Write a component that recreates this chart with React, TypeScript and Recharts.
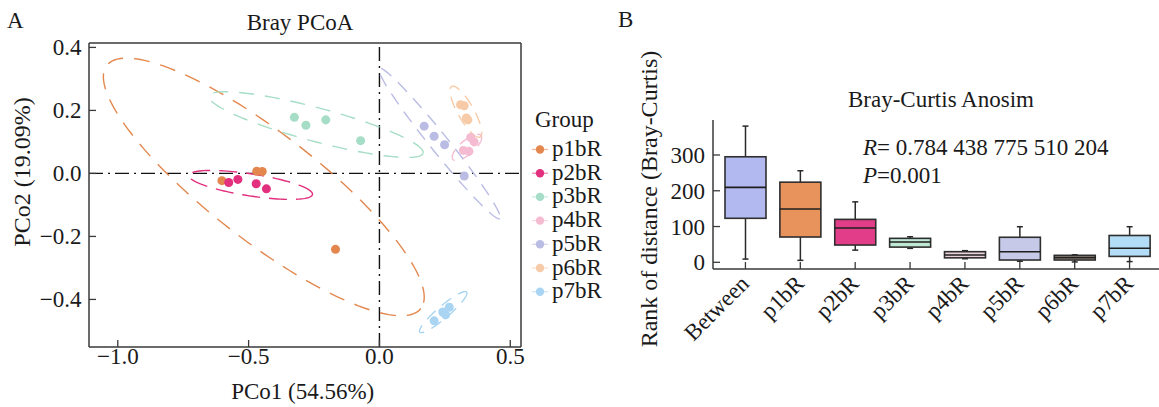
import React from 'react';
import { ScatterChart, Scatter, XAxis, YAxis, ReferenceLine, Legend, ComposedChart, Bar } from 'recharts';

const FONT = "'Liberation Serif', 'Times New Roman', Times, serif";
const AX = '#3a3a3a';
const TXT = '#1a1a1a';

// ---------- Panel A: PCoA ----------
const groups = ['p1bR', 'p2bR', 'p3bR', 'p4bR', 'p5bR', 'p6bR', 'p7bR'];
const groupColors = ['#E3874E', '#E2307E', '#A6DDC6', '#F5BBD0', '#BABCE4', '#F7CBA8', '#A9D5F3'];

const p1bR = [{ x: -0.469, y: 0.007 }, { x: -0.448, y: 0.006 }, { x: -0.602, y: -0.023 }, { x: -0.168, y: -0.241 }];
const p2bR = [{ x: -0.576, y: -0.029 }, { x: -0.541, y: -0.019 }, { x: -0.471, y: -0.033 }, { x: -0.432, y: -0.049 }];
const p3bR = [{ x: -0.325, y: 0.178 }, { x: -0.281, y: 0.153 }, { x: -0.205, y: 0.170 }, { x: -0.072, y: 0.104 }];
const p4bR = [{ x: 0.349, y: 0.114 }, { x: 0.362, y: 0.100 }, { x: 0.321, y: 0.073 }, { x: 0.342, y: 0.070 }];
const p5bR = [{ x: 0.171, y: 0.150 }, { x: 0.209, y: 0.118 }, { x: 0.249, y: 0.091 }, { x: 0.324, y: -0.008 }];
const p6bR = [{ x: 0.310, y: 0.218 }, { x: 0.324, y: 0.215 }, { x: 0.338, y: 0.170 }, { x: 0.332, y: 0.176 }];
const p7bR = [{ x: 0.209, y: -0.468 }, { x: 0.242, y: -0.440 }, { x: 0.253, y: -0.449 }, { x: 0.267, y: -0.425 }];
const groupPoints = [p1bR, p2bR, p3bR, p4bR, p5bR, p6bR, p7bR];

// ellipse: [center, end of first semi-axis, end of second semi-axis] (data units)
const p1bREllipse = [{ x: -0.442, y: -0.043 }, { x: 0.158, y: -0.429 }, { x: -0.5685, y: -0.178 }];
const p2bREllipse = [{ x: -0.492, y: -0.0365 }, { x: -0.2557, y: -0.0667 }, { x: -0.498, y: -0.0711 }];
const p3bREllipse = [{ x: -0.242, y: 0.155 }, { x: 0.167, y: 0.0644 }, { x: -0.2586, y: 0.1035 }];
const p4bREllipse = [{ x: 0.3344, y: 0.0825 }, { x: 0.3879, y: 0.1206 }, { x: 0.352, y: 0.0657 }];
const p5bREllipse = [{ x: 0.2295, y: 0.0952 }, { x: 0.4606, y: -0.1438 }, { x: 0.2024, y: 0.0775 }];
const p6bREllipse = [{ x: 0.3305, y: 0.1959 }, { x: 0.3849, y: 0.1156 }, { x: 0.3037, y: 0.1835 }];
const p7bREllipse = [{ x: 0.2437, y: -0.4403 }, { x: 0.3332, y: -0.3768 }, { x: 0.2586, y: -0.4549 }];
const groupEllipses = [p1bREllipse, p2bREllipse, p3bREllipse, p4bREllipse, p5bREllipse, p6bREllipse, p7bREllipse];
const ellipseDash = ['16 11', '18 9', '15 11', '12 8', '13 9', '12 8', '12 8'];

const xTicksA = [-1.0, -0.5, 0.0, 0.5];
const yTicksA = [0.4, 0.2, 0.0, -0.2, -0.4];
const X_MIN = -1.11, X_MAX = 0.541, Y_MIN = -0.551, Y_MAX = 0.414;

// ---------- Panel B: ANOSIM boxplot ----------
const boxCategories = ['Between', 'p1bR', 'p2bR', 'p3bR', 'p4bR', 'p5bR', 'p6bR', 'p7bR'];
const boxMin = [9, 5.5, 34, 39, 10, 3, 1, 2];
const boxQ1 = [123, 70.7, 48.3, 42.5, 12.5, 6.4, 6.4, 16.5];
const boxMedian = [209.5, 149, 95.8, 56.7, 20.5, 29.7, 13, 39.5];
const boxQ3 = [295, 224, 120, 67, 29.7, 70, 19.5, 75];
const boxMax = [380.7, 256, 169, 71.5, 32.5, 99.5, 21, 99.5];
const boxColors = ['#B2B9F1', '#E8925C', '#E13D88', '#BFE9D5', '#EBD2DA', '#C6C9E7', '#A8958A', '#B3DCF6'];
const yTicksB = [0, 100, 200, 300];

const boxData = boxCategories.map((c, i) => ({
  category: c, min: boxMin[i], q1: boxQ1[i], median: boxMedian[i], q3: boxQ3[i], max: boxMax[i],
}));

const fmtA = (v: number) => v.toFixed(1).replace('-', '\u2212');

const ellipseLine = (color: string, dash: string) => (props: any) => {
  const pts = props.points || [];
  if (pts.length < 3) return <g />;
  const c = pts[0], a = pts[1], b = pts[2];
  const ax = a.x - c.x, ay = a.y - c.y, bx = b.x - c.x, by = b.y - c.y;
  let d = '';
  const n = 120;
  for (let i = 0; i <= n; i++) {
    const t = (i / n) * Math.PI * 2;
    const px = c.x + ax * Math.cos(t) + bx * Math.sin(t);
    const py = c.y + ay * Math.cos(t) + by * Math.sin(t);
    d += (i === 0 ? 'M' : 'L') + px.toFixed(2) + ',' + py.toFixed(2);
  }
  return <path d={d} fill="none" stroke={color} strokeWidth={1.4} strokeDasharray={dash} />;
};

const LeftXTick = (props: any) => {
  const { x, y, payload } = props;
  return (
    <g>
      <line x1={x} x2={x} y1={y} y2={y - 7} stroke={AX} strokeWidth={1.3} />
      <text x={x} y={y + 17} textAnchor="middle" fontFamily={FONT} fontSize={23} fill={TXT}>{fmtA(payload.value)}</text>
    </g>
  );
};

const LeftYTick = (props: any) => {
  const { x, y, payload } = props;
  return (
    <g>
      <line x1={x} x2={x + 7} y1={y} y2={y} stroke={AX} strokeWidth={1.3} />
      <text x={x - 7.5} y={y + 8} textAnchor="end" fontFamily={FONT} fontSize={23} fill={TXT}>{fmtA(payload.value)}</text>
    </g>
  );
};

const RightXTick = (props: any) => {
  const { x, y, payload } = props;
  const tx = x + 5, ty = y + 16;
  return (
    <g>
      <line x1={x} x2={x} y1={y} y2={y - 7} stroke={AX} strokeWidth={1.3} />
      <text x={tx} y={ty} transform={`rotate(-45, ${tx}, ${ty})`} textAnchor="end" fontFamily={FONT} fontSize={23} fill={TXT}>{payload.value}</text>
    </g>
  );
};

const RightYTick = (props: any) => {
  const { x, y, payload } = props;
  return (
    <g>
      <line x1={x} x2={x + 7} y1={y} y2={y} stroke={AX} strokeWidth={1.3} />
      <text x={x - 8} y={y + 8} textAnchor="end" fontFamily={FONT} fontSize={23} fill={TXT}>{payload.value}</text>
    </g>
  );
};

const BoxShape = (props: any) => {
  const { x, y, width, height, payload } = props;
  if (!payload) return <g />;
  const top = Math.min(y, y + height);
  const h = Math.abs(height);
  const k = h / (payload.q3 - payload.q1);
  const pix = (v: number) => top + (payload.q3 - v) * k;
  const cx = x + width / 2;
  const idx = boxCategories.indexOf(payload.category);
  const col = boxColors[idx];
  const yMax = pix(payload.max), yMin = pix(payload.min), yMed = pix(payload.median);
  const cap = 3;
  return (
    <g>
      <line x1={cx} x2={cx} y1={yMax} y2={top} stroke="#2a2a2a" strokeWidth={1.5} />
      <line x1={cx} x2={cx} y1={top + h} y2={yMin} stroke="#2a2a2a" strokeWidth={1.5} />
      <line x1={cx - cap} x2={cx + cap} y1={yMax} y2={yMax} stroke="#2a2a2a" strokeWidth={1.5} />
      <line x1={cx - cap} x2={cx + cap} y1={yMin} y2={yMin} stroke="#2a2a2a" strokeWidth={1.5} />
      <rect x={x} y={top} width={width} height={h} fill={col} stroke="#2f2f2f" strokeWidth={1.6} />
      <line x1={x} x2={x + width} y1={yMed} y2={yMed} stroke="#1f1f1f" strokeWidth={1.6} />
    </g>
  );
};

const GroupLegend = (props: any) => {
  const payload = (props.payload || []).filter((p: any) => groups.includes(p.value));
  return (
    <svg width={120} height={230} style={{ display: 'block', overflow: 'visible' }}>
      <text x={7} y={27} fontFamily={FONT} fontSize={23} fill={TXT}>Group</text>
      {payload.map((p: any, i: number) => {
        const gi = groups.indexOf(p.value);
        const col = groupColors[gi];
        const cy = 49.5 + i * 23.7;
        return (
          <g key={p.value}>
            <line x1={4} x2={20} y1={cy} y2={cy} stroke={col} strokeWidth={1.2} opacity={0.6} />
            <circle cx={12} cy={cy} r={4.2} fill={col} />
            <text x={24} y={cy + 6.5} fontFamily={FONT} fontSize={23} fill={TXT}>{p.value}</text>
          </g>
        );
      })}
    </svg>
  );
};

export default function App() {
  return (
    <div style={{ position: 'absolute', left: 0, top: 0, width: 1159, height: 407, overflow: 'hidden', background: '#fff' }}>
      <div style={{ position: 'absolute', left: 0, top: 0 }}>
        <ScatterChart width={650} height={407} margin={{ top: 43, right: 129, bottom: 0, left: 0 }}>
          <XAxis type="number" dataKey="x" domain={[X_MIN, X_MAX]} ticks={xTicksA} allowDataOverflow
            height={60} tickSize={0} tickMargin={0} interval={0} tickLine={false}
            axisLine={{ stroke: AX, strokeWidth: 1.5 }} tick={<LeftXTick />} />
          <YAxis type="number" dataKey="y" domain={[Y_MIN, Y_MAX]} ticks={yTicksA} allowDataOverflow
            width={89} tickSize={0} tickMargin={0} interval={0} tickLine={false}
            axisLine={{ stroke: AX, strokeWidth: 1.5 }} tick={<LeftYTick />} />
          <ReferenceLine x={X_MAX} stroke={AX} strokeWidth={1.5} ifOverflow="visible" />
          <ReferenceLine y={Y_MAX} stroke={AX} strokeWidth={1.5} ifOverflow="visible" />
          <ReferenceLine x={0} stroke="#111" strokeWidth={1.4} strokeDasharray="14 5 2 5" />
          <ReferenceLine y={0} stroke="#111" strokeWidth={1.4} strokeDasharray="14 5 2 5" />
          {groups.map((g, i) => (
            <Scatter key={g + '-ell'} name={g + ' ellipse'} data={groupEllipses[i]} legendType="none"
              fill={groupColors[i]} shape={() => <g />}
              line={ellipseLine(groupColors[i], ellipseDash[i])} isAnimationActive={false} />
          ))}
          {groups.map((g, i) => (
            <Scatter key={g} name={g} data={groupPoints[i]} fill={groupColors[i]} shape="circle" isAnimationActive={false} />
          ))}
          <Legend layout="vertical" align="center" verticalAlign="middle" width={120} height={230}
            wrapperStyle={{ position: 'absolute', left: 528, top: 100, width: 120, height: 230 }}
            content={<GroupLegend />} />
        </ScatterChart>
      </div>
      <div style={{ position: 'absolute', left: 600, top: 0 }}>
        <ComposedChart width={562} height={407} data={boxData} margin={{ top: 120, right: 0, bottom: 0, left: 0 }}>
          <XAxis dataKey="category" type="category" height={138} padding={{ left: 5, right: 5 }}
            tickSize={0} tickMargin={0} interval={0} tickLine={false}
            axisLine={{ stroke: AX, strokeWidth: 1.5 }} tick={<RightXTick />} />
          <YAxis type="number" domain={[-18.7, 397.8]} ticks={yTicksB} allowDataOverflow width={113}
            tickSize={0} tickMargin={0} interval={0} tickLine={false}
            axisLine={{ stroke: AX, strokeWidth: 1.5 }} tick={<RightYTick />} />
          <Bar dataKey={(d: any) => [d.q1, d.q3]} barSize={41} shape={<BoxShape />} isAnimationActive={false} />
        </ComposedChart>
      </div>
      <svg width={1159} height={407} style={{ position: 'absolute', left: 0, top: 0, pointerEvents: 'none' }}>
        <g fontFamily={FONT} fill={TXT}>
          <text x={7} y={28} fontSize={23}>A</text>
          <text x={300} y={30} fontSize={23} textAnchor="middle">Bray PCoA</text>
          <text x={302.7} y={399} fontSize={23} textAnchor="middle">PCo1 (54.56%)</text>
          <text x={30} y={172} fontSize={24} textAnchor="middle" transform="rotate(-90, 30, 172)">PCo2 (19.09%)</text>
          <text x={618} y={27} fontSize={23}>B</text>
          <text x={848} y={107} fontSize={23}>Bray-Curtis Anosim</text>
          <text x={863} y={155} fontSize={23}><tspan fontStyle="italic">R</tspan>= 0.784 438 775 510 204</text>
          <text x={863} y={183} fontSize={23}><tspan fontStyle="italic">P</tspan>=0.001</text>
          <text x={657} y={199} fontSize={24} textAnchor="middle" transform="rotate(-90, 657, 199)">Rank of distance (Bray-Curtis)</text>
        </g>
      </svg>
    </div>
  );
}
